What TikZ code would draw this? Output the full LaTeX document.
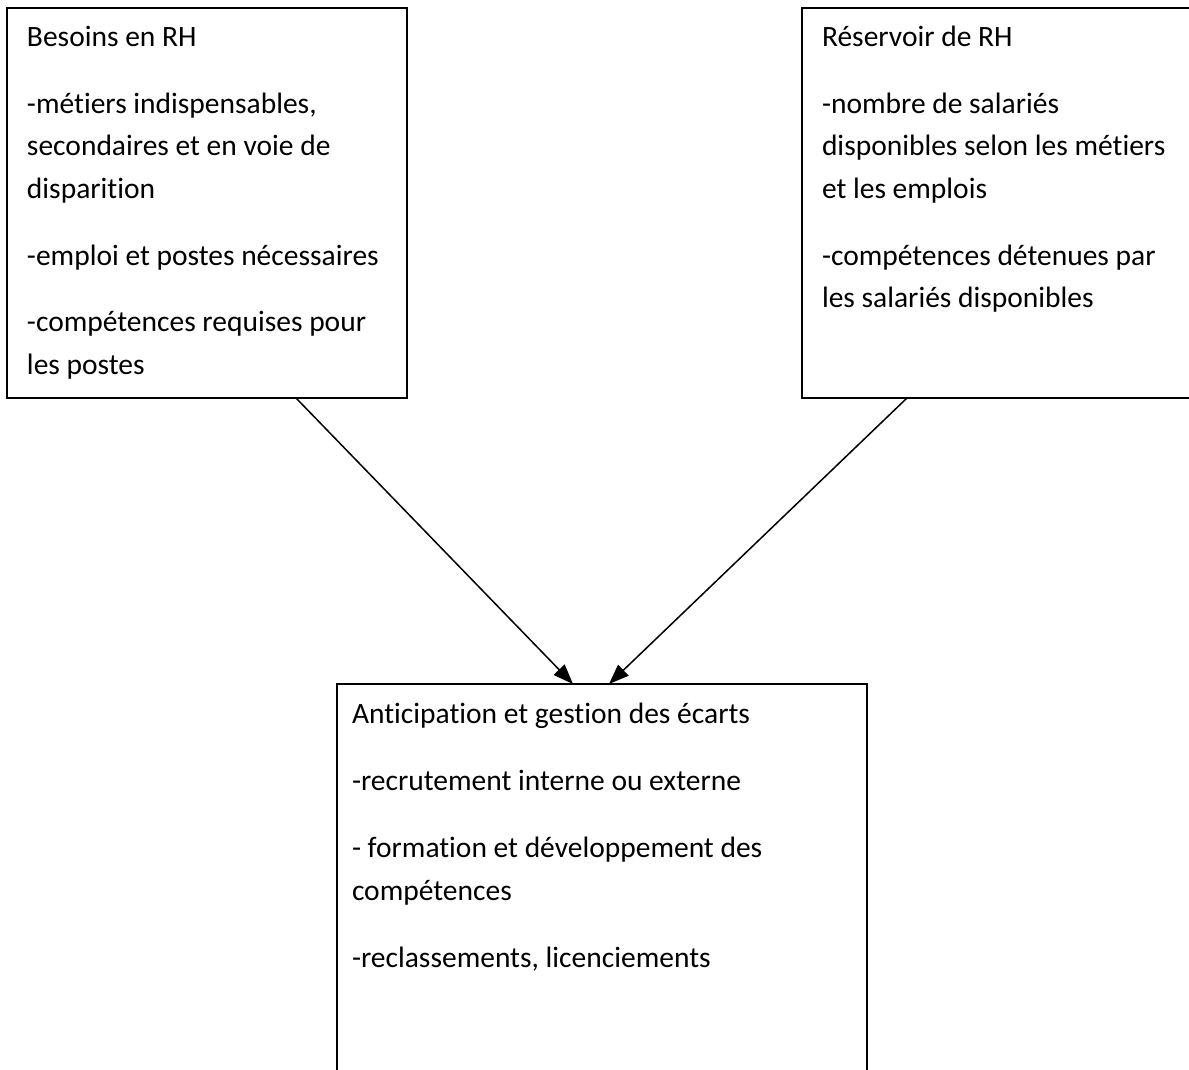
\documentclass[tikz,border=0pt]{standalone}
\usepackage{fontspec}
\setmainfont[Ligatures={NoCommon}]{Carlito}
\usetikzlibrary{arrows.meta,calc}
\tikzset{
  box/.style={draw=black, line width=2pt, fill=none, inner sep=0pt, outer sep=0pt, anchor=north west},
  txt/.style={anchor=base west, inner sep=0pt, outer sep=0pt, text=black, font=\fontsize{29.5}{35}\selectfont},
  conn/.style={line width=1.5pt, -{Triangle[length=20pt,width=15pt]}}
}
\begin{document}
\begin{tikzpicture}[x=1pt,y=-1pt]
\useasboundingbox (0,0) rectangle (1189,1070);
\clip (0,0) rectangle (1189,1070);
\fill[white] (0,0) rectangle (1189,1070);
% boxes
\node[box, minimum width=400pt, minimum height=390pt] (lbox) at (7,8) {};
\node[box, minimum width=420pt, minimum height=390pt] (rbox) at (802,8) {};
\node[box, minimum width=530pt, minimum height=430pt] (bbox) at (337,684) {};
% left box text
\node[txt] (l1) at (27,47) {Besoins en RH};
\node[txt] (l2) at (27,113.5) {-métiers indispensables,};
\node[txt] (l3) at (27,156) {secondaires et en voie de};
\node[txt] (l4) at (27,198.5) {disparition};
\node[txt] (l5) at (27,265) {-emploi et postes nécessaires};
\node[txt] (l6) at (27,331.5) {-compétences requises pour};
\node[txt] (l7) at (27,374) {les postes};
% right box text
\node[txt] (r1) at (822,47) {Réservoir de RH};
\node[txt] (r2) at (822,113.5) {-nombre de salariés};
\node[txt] (r3) at (822,156) {disponibles selon les métiers};
\node[txt] (r4) at (822,198.5) {et les emplois};
\node[txt] (r5) at (822,265) {-compétences détenues par};
\node[txt] (r6) at (822,307.5) {les salariés disponibles};
% bottom box text
\node[txt] (b1) at (352,723) {Anticipation et gestion des écarts};
\node[txt] (b2) at (352,790) {-recrutement interne ou externe};
\node[txt] (b3) at (352,857) {- formation et développement des};
\node[txt] (b4) at (352,900) {compétences};
\node[txt] (b5) at (352,967) {-reclassements, licenciements};
% connectors
\coordinate (s1) at ($(lbox.south west)+(289,0)$);
\coordinate (t1) at ($(bbox.north west)+(236,0)$);
\coordinate (s2) at ($(rbox.south west)+(105,0)$);
\coordinate (t2) at ($(bbox.north west)+(272,0)$);
\draw[conn] (s1) -- (t1);
\draw[conn] (s2) -- (t2);
\end{tikzpicture}
\end{document}
